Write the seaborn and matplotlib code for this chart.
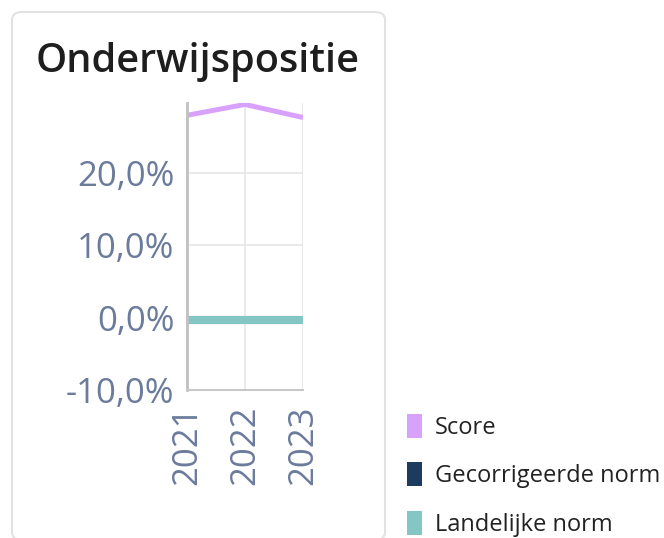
import matplotlib
matplotlib.use("Agg")
import matplotlib.pyplot as plt
import matplotlib.ticker as mticker
from matplotlib.patches import Patch, FancyBboxPatch
import seaborn as sns
import pandas as pd

years = ["2021", "2022", "2023"]
score = [27.9, 29.4, 27.6]
gecorrigeerde_norm = [-0.4, -0.4, -0.4]
landelijke_norm = [-0.4, -0.4, -0.4]
series_names = ["Score", "Gecorrigeerde norm", "Landelijke norm"]
colors = ["#d8a2fc", "#1d3a5f", "#84c6c3"]

df = pd.DataFrame({
    "jaar": years * 3,
    "waarde": score + gecorrigeerde_norm + landelijke_norm,
    "reeks": [series_names[0]] * 3 + [series_names[1]] * 3 + [series_names[2]] * 3,
})

sns.set_style("white")
plt.rcParams['font.family'] = ['Open Sans', 'DejaVu Sans']

fig = plt.figure(figsize=(6.64, 5.38), dpi=100)

# card background
card = FancyBboxPatch((12 / 664, 1 - 540 / 538), 373 / 664, 528 / 538,
                      boxstyle="round,pad=0,rounding_size=0.015",
                      transform=fig.transFigure, facecolor="white",
                      edgecolor="#e2e2e2", linewidth=1.5, zorder=-10)
fig.patches.append(card)

ax = fig.add_axes([187 / 664, 1 - 390 / 538, 116 / 664, 287 / 538])
ax.set_zorder(5)
ax.patch.set_alpha(0)

sns.lineplot(data=df, x="jaar", y="waarde", hue="reeks", palette=colors,
             hue_order=series_names, ax=ax, legend=False, sort=False)
widths = {"Score": 3.6, "Gecorrigeerde norm": 5.8, "Landelijke norm": 5.8}
for line, name in zip(ax.lines, series_names):
    line.set_linewidth(widths[name])
    line.set_solid_capstyle("butt")

ax.set_ylim(-10, 29.6)
ax.set_xlim(0, 2)
ax.set_yticks([-10, 0, 10, 20])
ax.yaxis.set_major_formatter(mticker.FuncFormatter(lambda v, p: f"{v:.1f}".replace(".", ",") + "%"))
ax.grid(True, color="#e6e6e6", linewidth=1.2)
ax.set_axisbelow(True)
for s in ["top", "right"]:
    ax.spines[s].set_visible(False)
ax.spines["left"].set_color("#c0c0c0")
ax.spines["left"].set_linewidth(2)
ax.spines["bottom"].set_color("#c8c8c8")
ax.spines["bottom"].set_linewidth(1.5)
ax.tick_params(axis="y", length=7, color="#d8d8d8", width=1.2, labelsize=25,
               labelcolor="#6b7b9b", pad=2)
ax.tick_params(axis="x", length=7, color="#c8c8c8", width=1.5, labelsize=25,
               labelcolor="#6b7b9b", rotation=90, pad=4)
ax.set_xlabel("")
ax.set_ylabel("")

fig.text(198 / 664, 1 - 62 / 538, "Onderwijspositie", ha="center", va="center",
         fontsize=28.5, color="#1e1e1e", fontweight="semibold")

handles = [Patch(facecolor=c, edgecolor="none") for c in colors]
fig.legend(handles, series_names, loc="upper left",
           bbox_to_anchor=(407 / 664, 1 - 414 / 538), frameon=False,
           fontsize=17, labelcolor="#222222", handlelength=0.64,
           handleheight=1.19, handletextpad=0.55, labelspacing=0.95,
           borderaxespad=0, borderpad=0)

fig.savefig("out.png", dpi=100)
